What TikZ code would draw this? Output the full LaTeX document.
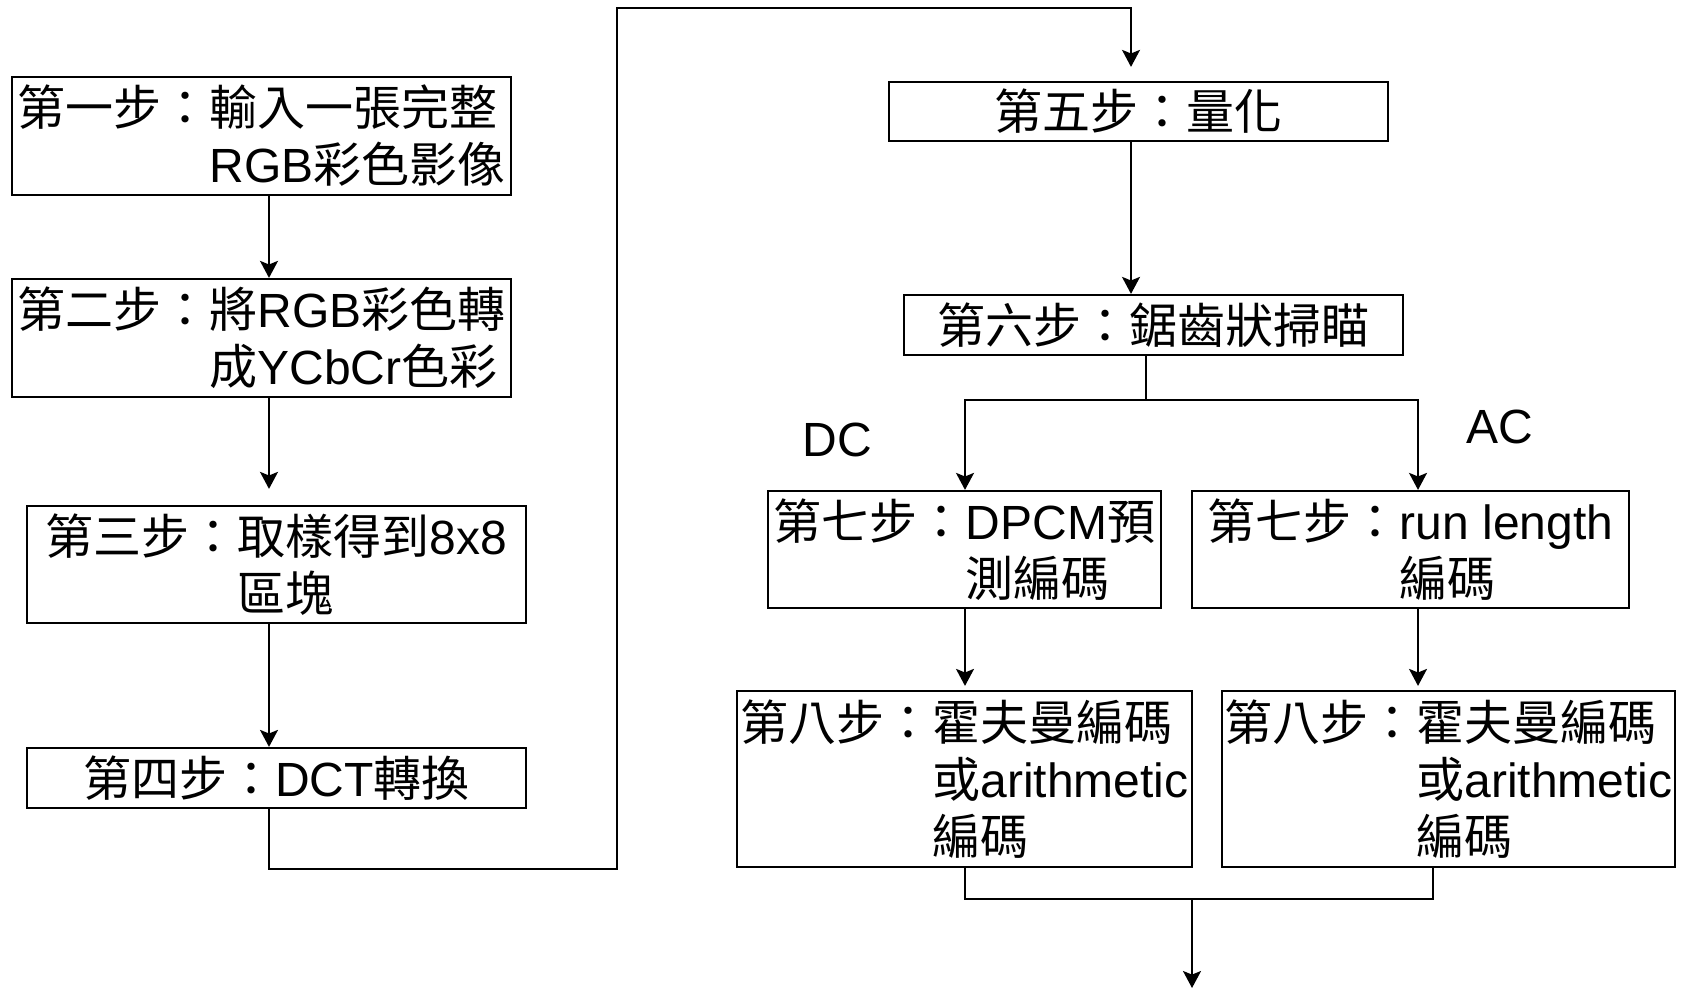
\documentclass[tikz,border=0pt]{standalone}
\usepackage{fontspec}
\setmainfont{Liberation Sans}
\newfontfamily\cjk{Noto Sans CJK TC}
\usetikzlibrary{arrows.meta,calc}
\newcommand\C[1]{{\cjk #1}}
\begin{document}
\begin{tikzpicture}[x=0.5pt,y=-0.5pt,
  box/.style={draw, line width=1.1pt, inner sep=0pt, align=left,
    font=\fontsize{24}{28.5}\selectfont},
  conn/.style={line width=1pt},
  arr/.style={conn, -{Stealth[length=8.5pt,width=9pt,inset=1.8pt]}},
  lab/.style={font=\fontsize{24}{28.5}\selectfont, inner sep=0pt}]
\useasboundingbox (0,0) rectangle (1689,989);

% left column
\node[box, minimum width=249.5pt, minimum height=59pt] (b1) at (261.5,136)
  {\C{第一步：輸入一張完整}\\\hspace*{4em}RGB\C{彩色影像}};
\node[box, minimum width=249.5pt, minimum height=59pt] (b2) at (261.5,338)
  {\C{第二步：將}RGB\C{彩色轉}\\\hspace*{4em}\C{成}YCbCr\C{色彩}};
\node[box, minimum width=249.5pt, minimum height=58.5pt] (b3) at (276.5,564.5)
  {\C{第三步：取樣得到}8x8\\\hspace*{4em}\C{區塊}};
\node[box, minimum width=249.5pt, minimum height=30pt] (b4) at (276.5,778)
  {\C{第四步：}DCT\C{轉換}};

% right part
\node[box, minimum width=249.5pt, minimum height=29.5pt] (b5) at (1138.5,111.5)
  {\C{第五步：量化}};
\node[box, minimum width=249.5pt, minimum height=30pt] (b6) at (1153.5,325)
  {\C{第六步：鋸齒狀掃瞄}};
\node[box, minimum width=196.5pt, minimum height=58.5pt] (b7l) at (964.5,549.5)
  {\C{第七步：}DPCM\C{預}\\\hspace*{4em}\C{測編碼}};
\node[box, minimum width=218.5pt, minimum height=58.5pt] (b7r) at (1410.5,549.5)
  {\C{第七步：}run length\\\hspace*{4em}\C{編碼}};
\node[box, minimum width=227.5pt, minimum height=88pt] (b8l) at (964.5,779)
  {\C{第八步：霍夫曼編碼}\\\hspace*{4em}\C{或}arithmetic\\\hspace*{4em}\C{編碼}};
\node[box, minimum width=226.5pt, minimum height=88pt] (b8r) at (1448.5,779)
  {\C{第八步：霍夫曼編碼}\\\hspace*{4em}\C{或}arithmetic\\\hspace*{4em}\C{編碼}};

\node[lab] (dc) at (837,440) {DC};
\node[lab] (ac) at (1500,427) {AC};

% helper coordinates
\coordinate (xL) at (269,0);
\coordinate (r1) at (617,869);
\coordinate (r2) at (617,8);
\coordinate (xM) at (1131,0);
\coordinate (xS) at (1146,0);
\coordinate (sp) at (1146,400);
\coordinate (xDC) at (965,0);
\coordinate (xAC) at (1418,0);
\coordinate (xAC2) at (1433,0);
\coordinate (m) at (1192,899);
\coordinate (fin) at (1192,988);

% connectors
\draw[arr] (b1.south -| xL) -- (b2.north -| xL);
\draw[arr, shorten >=8pt] (b2.south -| xL) -- (b3.north -| xL);
\draw[arr] (b3.south -| xL) -- (b4.north -| xL);
\draw[arr, shorten >=7pt] (b4.south -| xL) |- (r1) -- (r2) -| (b5.north -| xM);
\draw[arr] (b5.south -| xM) -- (b6.north -| xM);
\draw[conn] (b6.south -| xS) -- (sp);
\draw[arr] (sp) -| (b7l.north -| xDC);
\draw[arr] (sp) -| (b7r.north -| xAC);
\draw[arr, shorten >=2pt] (b7l.south -| xDC) -- (b8l.north -| xDC);
\draw[arr, shorten >=2pt] (b7r.south -| xAC) -- (b8r.north -| xAC);
\draw[conn] (b8l.south -| xDC) |- (m) -| (b8r.south -| xAC2);
\draw[arr] (m) -- (fin);
\end{tikzpicture}
\end{document}
